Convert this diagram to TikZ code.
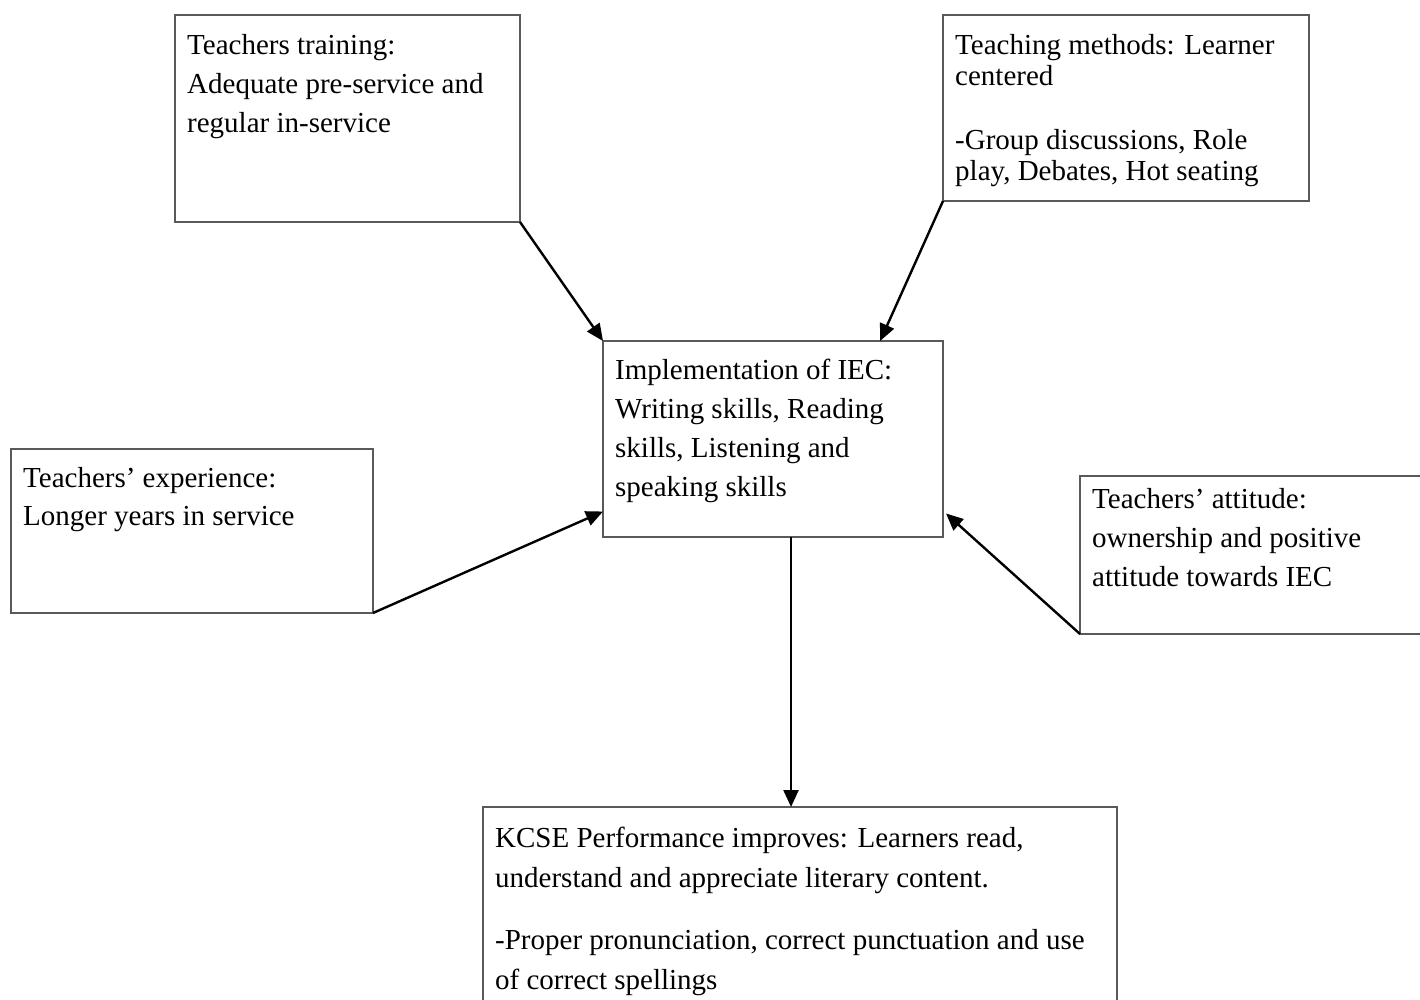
\documentclass[tikz,border=0pt]{standalone}
\usepackage{fontspec}
\setmainfont{Liberation Serif}
\usetikzlibrary{arrows.meta,calc}
\tikzset{
  box/.style={draw=black!65, line width=1.1pt, rectangle, anchor=north west, inner sep=0pt, outer sep=0pt},
  txt/.style={anchor=base west, inner sep=0pt, align=left, font=\fontsize{29}{39}\selectfont},
  arr/.style={line width=2.4pt, black, -{Triangle[length=17pt,width=15pt]}}
}
\begin{document}
\begin{tikzpicture}[x=1pt,y=-1pt]
\useasboundingbox (0,0) rectangle (1420,1000);
\fill[white] (0,0) rectangle (1420,1000);
\clip (0,0) rectangle (1420,1000);
% boxes
\node[box, minimum width=345pt, minimum height=207pt] (train) at (175,15) {};
\node[box, minimum width=366pt, minimum height=186pt] (meth) at (943,15) {};
\node[box, minimum width=340pt, minimum height=196pt] (impl) at (603,341) {};
\node[box, minimum width=362pt, minimum height=164pt] (exper) at (11,449) {};
\node[box, minimum width=360pt, minimum height=158pt] (attit) at (1080,476) {};
\node[box, minimum width=634pt, minimum height=215pt] (kcse) at (483,807) {};
% texts (anchored at the baseline of the last line)
\node[txt] (train-t) at (187,133) {Teachers training:\\Adequate pre-service and\\regular in-service};
\node[txt, font=\fontsize{29}{31}\selectfont] (meth-t) at (955,181) {Teaching methods: Learner\\centered\\[33pt]-Group discussions, Role\\play, Debates, Hot seating};
\node[txt] (impl-t) at (615,496) {Implementation of IEC:\\Writing skills, Reading\\skills, Listening and\\speaking skills};
\node[txt, font=\fontsize{29}{38}\selectfont] (exper-t) at (23,525) {Teachers’ experience:\\Longer years in service};
\node[txt] (attit-t) at (1092,586) {Teachers’ attitude:\\ownership and positive\\attitude towards IEC};
\node[txt, font=\fontsize{29}{40}\selectfont] (kcse-t) at (495,989) {KCSE Performance improves: Learners read,\\understand and appreciate literary content.\\[22pt]-Proper pronunciation, correct punctuation and use\\of correct spellings};
% connector points
\coordinate (inTop1) at (impl.north west);
\coordinate (inTop2) at ($(impl.north west)!0.815!(impl.north east)$);
\coordinate (inLeft) at ($(impl.north west)!0.87!(impl.south west)$);
\coordinate (inRight) at ($(impl.north east)!0.88!(impl.south east)+(3,0)$);
\coordinate (out) at ($(impl.south west)!0.553!(impl.south east)$);
% connectors
\draw[arr] (train.south east) -- (inTop1);
\draw[arr] (meth.south west) -- (inTop2);
\draw[arr] (exper.south east) -- (inLeft);
\draw[arr] (attit.south west) -- (inRight);
\draw[arr] (out) -- (out |- kcse.north);
\end{tikzpicture}
\end{document}
